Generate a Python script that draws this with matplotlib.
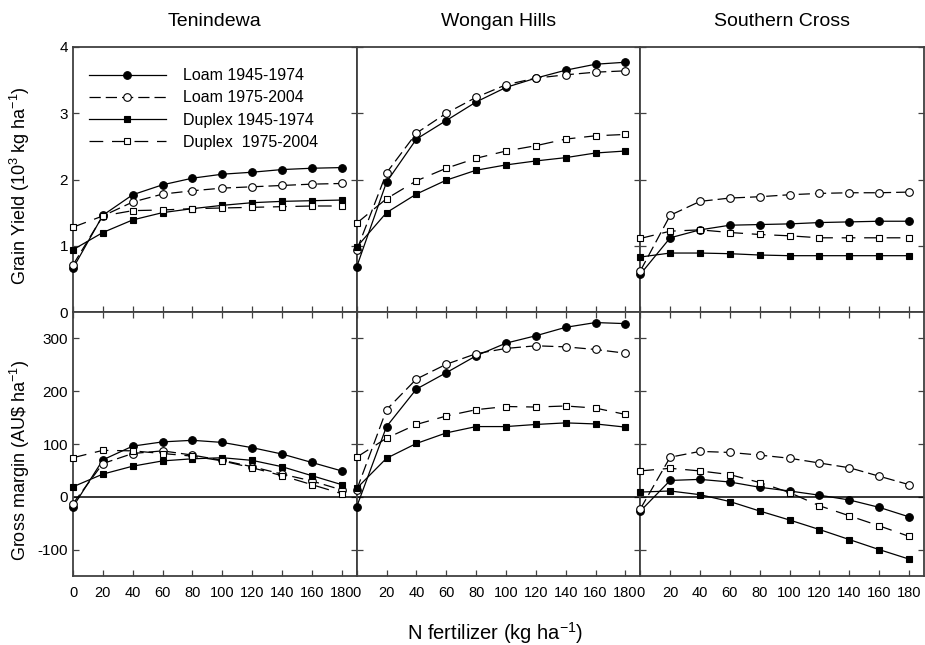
import matplotlib
matplotlib.use("Agg")
import matplotlib.pyplot as plt

plt.rcParams['font.family'] = ['Liberation Sans', 'DejaVu Sans']
plt.rcParams['axes.unicode_minus'] = False
plt.rcParams['mathtext.default'] = 'regular'

n_rates = [0, 20, 40, 60, 80, 100, 120, 140, 160, 180]
sites = ["Tenindewa", "Wongan Hills", "Southern Cross"]
series_names = ["Loam 1945-1974", "Loam 1975-2004", "Duplex 1945-1974", "Duplex  1975-2004"]

# Grain yield (10^3 kg/ha)
yield_tenindewa = {
    "loam45":   [0.66, 1.46, 1.77, 1.92, 2.02, 2.08, 2.11, 2.15, 2.17, 2.18],
    "loam75":   [0.71, 1.45, 1.66, 1.78, 1.83, 1.87, 1.89, 1.91, 1.93, 1.94],
    "duplex45": [0.94, 1.20, 1.39, 1.50, 1.56, 1.61, 1.65, 1.67, 1.68, 1.69],
    "duplex75": [1.28, 1.45, 1.53, 1.54, 1.56, 1.57, 1.58, 1.59, 1.60, 1.60],
}
yield_wongan = {
    "loam45":   [0.68, 1.96, 2.61, 2.89, 3.17, 3.39, 3.53, 3.65, 3.74, 3.77],
    "loam75":   [0.93, 2.10, 2.70, 3.00, 3.24, 3.43, 3.53, 3.58, 3.62, 3.64],
    "duplex45": [0.98, 1.50, 1.78, 1.99, 2.14, 2.22, 2.28, 2.33, 2.40, 2.43],
    "duplex75": [1.34, 1.71, 1.98, 2.17, 2.32, 2.43, 2.51, 2.61, 2.66, 2.68],
}
yield_southern = {
    "loam45":   [0.57, 1.12, 1.24, 1.31, 1.32, 1.33, 1.35, 1.36, 1.37, 1.37],
    "loam75":   [0.62, 1.46, 1.67, 1.72, 1.74, 1.77, 1.79, 1.80, 1.80, 1.81],
    "duplex45": [0.83, 0.89, 0.89, 0.88, 0.86, 0.85, 0.85, 0.85, 0.85, 0.85],
    "duplex75": [1.11, 1.22, 1.24, 1.20, 1.17, 1.15, 1.12, 1.12, 1.12, 1.12],
}

# Gross margin (AU$/ha)
gm_tenindewa = {
    "loam45":   [-19, 70, 96, 104, 107, 103, 93, 81, 65, 49],
    "loam75":   [-13, 63, 82, 87, 79, 69, 57, 43, 30, 13],
    "duplex45": [19, 43, 58, 68, 72, 74, 69, 57, 40, 23],
    "duplex75": [74, 88, 87, 82, 77, 68, 55, 40, 23, 6],
}
gm_wongan = {
    "loam45":   [-19, 133, 204, 235, 267, 291, 305, 321, 330, 328],
    "loam75":   [13, 165, 223, 251, 271, 281, 286, 284, 279, 272],
    "duplex45": [16, 73, 101, 121, 133, 133, 137, 140, 138, 132],
    "duplex75": [75, 111, 137, 153, 165, 171, 170, 172, 168, 156],
}
gm_southern = {
    "loam45":   [-27, 31, 33, 28, 18, 11, 3, -6, -20, -38],
    "loam75":   [-23, 75, 86, 84, 79, 73, 64, 55, 39, 23],
    "duplex45": [9, 11, 4, -9, -27, -44, -62, -81, -100, -118],
    "duplex75": [49, 54, 49, 42, 27, 8, -17, -36, -55, -75],
}

yield_data = [yield_tenindewa, yield_wongan, yield_southern]
gm_data = [gm_tenindewa, gm_wongan, gm_southern]

keys = ["loam45", "loam75", "duplex45", "duplex75"]
styles = {
    "loam45":   dict(marker='o', mfc='black', ms=5.5, ls='-'),
    "loam75":   dict(marker='o', mfc='white', ms=5.5, ls=(0, (9, 4))),
    "duplex45": dict(marker='s', mfc='black', ms=4.5, ls='-'),
    "duplex75": dict(marker='s', mfc='white', ms=4.5, ls=(0, (11, 7))),
}

W, H = 925, 645
fig = plt.figure(figsize=(W / 100, H / 100), dpi=100)

left_px, right_px = 73, 924
pw = (right_px - left_px) / 3
top_rows = [(47, 312), (312, 576)]
spine_col = '#404040'

axes_top, axes_bot = [], []
for r, (ytop, ybot) in enumerate(top_rows):
    for c in range(3):
        x0 = left_px + c * pw
        ax = fig.add_axes([x0 / W, 1 - ybot / H, pw / W, (ybot - ytop) / H])
        for s in ax.spines.values():
            s.set_color(spine_col)
            s.set_linewidth(1.3)
        ax.set_xlim(0, 190)
        ax.set_xticks(n_rates)
        ax.tick_params(direction='in', length=4, width=0.9, color=spine_col,
                       labelsize=10.5, left=True, right=True, top=(r == 1), bottom=True)
        ax.tick_params(axis='y', labelsize=11)
        if c > 0:
            ax.tick_params(labelleft=False)
        if r == 0:
            ax.tick_params(labelbottom=False)
            axes_top.append(ax)
        else:
            axes_bot.append(ax)

for c, ax in enumerate(axes_top):
    d = yield_data[c]
    for k, name in zip(keys, series_names):
        ax.plot(n_rates, d[k], color='black', lw=0.9, mec='black', mew=0.8,
                clip_on=False, label=name, zorder=3, **styles[k])
    ax.set_ylim(0, 4)
    ax.set_yticks([0, 1, 2, 3, 4])
    ax.set_title(sites[c], fontsize=14, pad=15)

for c, ax in enumerate(axes_bot):
    d = gm_data[c]
    ax.axhline(0, color='black', lw=1.1, zorder=2)
    for k in keys:
        ax.plot(n_rates, d[k], color='black', lw=0.9, mec='black', mew=0.8,
                clip_on=False, zorder=3, **styles[k])
    ax.set_ylim(-150, 350)
    ax.set_yticks([-100, 0, 100, 200, 300])
    ax.tick_params(axis='x', pad=7)

leg = axes_top[0].legend(loc='upper left', frameon=False, fontsize=11.5,
                         handlelength=4.8, handletextpad=1.1, labelspacing=0.45,
                         borderaxespad=0.6, bbox_to_anchor=(0.0, 0.98))

fig.text(20 / W, 1 - 186 / H, r'Grain Yield (10$^{3}$ kg ha$^{-1}$)', rotation=90,
         ha='center', va='center', fontsize=13)
fig.text(20 / W, 1 - 460 / H, r'Gross margin (AU\$ ha$^{-1}$)', rotation=90,
         ha='center', va='center', fontsize=13)
fig.text(495 / W, 1 - 633 / H, r'N fertilizer (kg ha$^{-1}$)', ha='center', va='center',
         fontsize=14.5)

fig.savefig('out.png', dpi=100)
